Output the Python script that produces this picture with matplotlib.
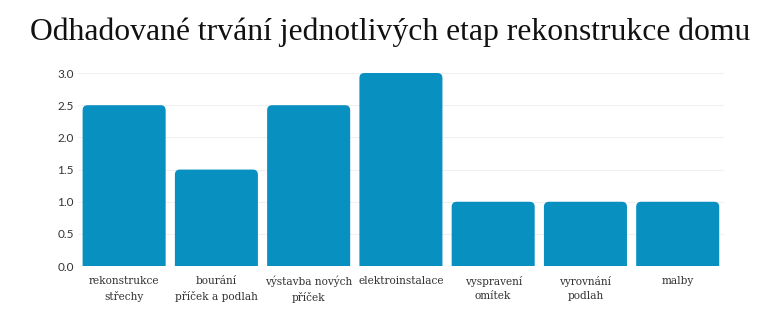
import matplotlib.pyplot as plt
from matplotlib.patches import FancyBboxPatch

# data
stages = ["rekonstrukce\nstřechy", "bourání\npříček a podlah", "výstavba nových\npříček",
          "elektroinstalace", "vyspravení\nomítek", "vyrovnání\npodlah", "malby"]
durations = [2.5, 1.5, 2.5, 3.0, 1.0, 1.0, 1.0]

bar_color = "#0790c0"

fig = plt.figure(figsize=(7.8, 3.12), dpi=100)
ax = fig.add_axes([0.1, 0.147, 0.828, 0.619])

bars = ax.bar(range(len(stages)), durations, width=0.9, color="none")

# rounded tops: redraw each bar as a fancy box extended below zero, clipped by the axes
rx = 0.055
aspect = (5 / 64.3) / rx
for b in bars:
    x, w, h = b.get_x(), b.get_width(), b.get_height()
    p = FancyBboxPatch((x, -0.3), w, h + 0.3,
                       boxstyle=f"round,pad=0,rounding_size={rx}",
                       mutation_aspect=aspect, fc=bar_color, ec="none",
                       clip_on=True, zorder=3)
    ax.add_patch(p)

ax.set_xlim(-0.5, len(stages) - 0.5)
ax.set_ylim(0, 3.0)
ax.set_yticks([0, 0.5, 1.0, 1.5, 2.0, 2.5, 3.0])
ax.set_yticklabels([f"{v:.1f}" for v in [0, 0.5, 1.0, 1.5, 2.0, 2.5, 3.0]],
                   family="Lato", fontsize=8.5, color="#333333")
ax.set_xticks(range(len(stages)))
ax.set_xticklabels(stages, family="DejaVu Serif", fontsize=7.6, color="#333333",
                   va="top", linespacing=1.55)
ax.tick_params(axis="both", length=0)
ax.tick_params(axis="x", pad=7)
ax.tick_params(axis="y", pad=3)
ax.grid(True, axis="y", color="#f0f0f0", linewidth=0.8, zorder=0)
ax.set_axisbelow(True)
for s in ax.spines.values():
    s.set_visible(False)

fig.text(0.5, 0.898, "Odhadované trvání jednotlivých etap rekonstrukce domu",
         ha="center", va="center", family="Liberation Serif", fontsize=22.8, color="#111111")

fig.savefig("out.png", dpi=100, facecolor="white")
